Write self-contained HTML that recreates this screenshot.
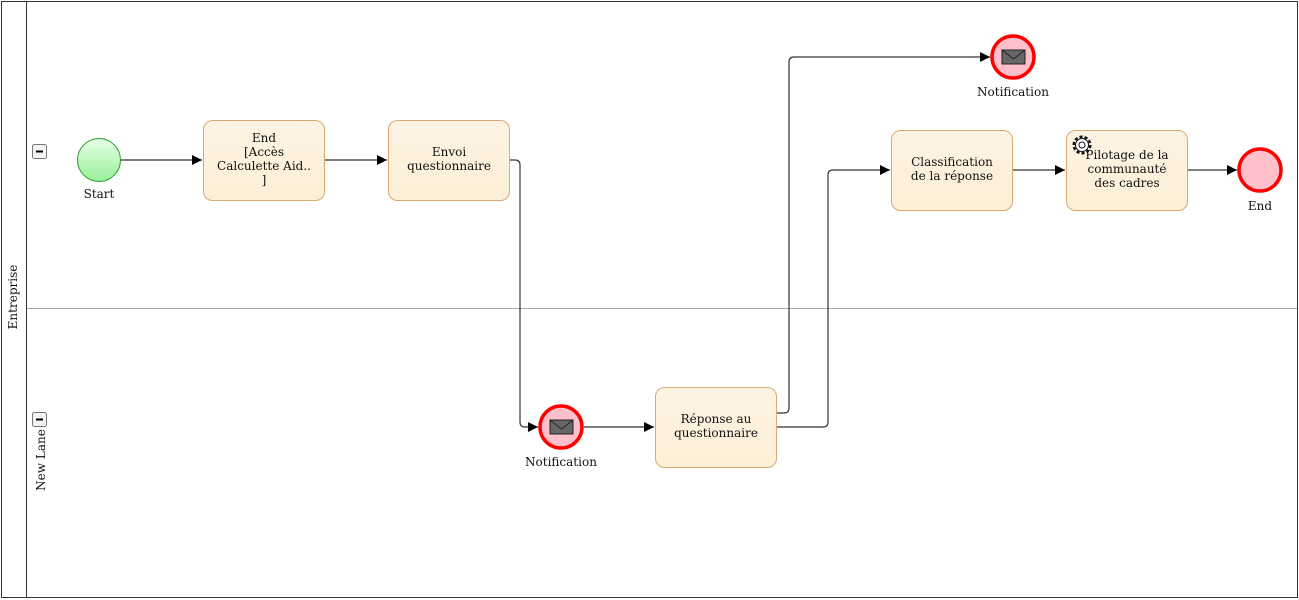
<!DOCTYPE html>
<html><head><meta charset="utf-8"><style>
html,body{margin:0;padding:0;background:#fff;}
svg{display:block;}
text{font-family:"DejaVu Serif","Liberation Serif",serif;font-size:12px;fill:#111;}
</style></head><body>
<svg width="1299" height="600" viewBox="0 0 1299 600" xmlns="http://www.w3.org/2000/svg">
<defs>
<linearGradient id="tg" x1="0" y1="0" x2="0" y2="1"><stop offset="0" stop-color="#fdf3e3"/><stop offset="1" stop-color="#fdefd6"/></linearGradient>
<linearGradient id="sg" x1="0" y1="0" x2="0" y2="1"><stop offset="0" stop-color="#e6ffe6"/><stop offset="1" stop-color="#99f099"/></linearGradient>
<marker id="a" markerWidth="10" markerHeight="10" refX="10" refY="5" orient="auto" markerUnits="userSpaceOnUse"><path d="M0,0 L10,5 L0,10 z" fill="#000"/></marker>
</defs>
<rect x="1.5" y="1.5" width="1296" height="596" fill="#fff" stroke="#333"/>
<line x1="26.5" y1="1" x2="26.5" y2="598" stroke="#333"/>
<line x1="27" y1="308.5" x2="1297" y2="308.5" stroke="#aaa"/>
<text transform="translate(17,297) rotate(-90)" text-anchor="middle">Entreprise</text>
<text transform="translate(45,460) rotate(-90)" text-anchor="middle">New Lane</text>
<rect x="32.5" y="144.5" width="14" height="14" rx="2" fill="#f4f4f4" stroke="#777"/><line x1="36" y1="151.5" x2="43" y2="151.5" stroke="#000" stroke-width="2"/>
<rect x="32.5" y="412.5" width="14" height="14" rx="2" fill="#f4f4f4" stroke="#777"/><line x1="36" y1="419.5" x2="43" y2="419.5" stroke="#000" stroke-width="2"/>

<g fill="none" stroke="#333" stroke-width="1.2">
<path d="M120,160 H202" marker-end="url(#a)"/>
<path d="M325,160 H387" marker-end="url(#a)"/>
<path d="M510,160 H515 Q520,160 520,165 V422 Q520,427 525,427 H538" marker-end="url(#a)"/>
<path d="M584,427 H654" marker-end="url(#a)"/>
<path d="M777,413 H784 Q789,413 789,408 V62 Q789,57 794,57 H990" marker-end="url(#a)"/>
<path d="M777,427 H823 Q828,427 828,422 V175 Q828,170 833,170 H890" marker-end="url(#a)"/>
<path d="M1013,170 H1065" marker-end="url(#a)"/>
<path d="M1188,170 H1237" marker-end="url(#a)"/>
</g>

<circle cx="99" cy="160" r="21.5" fill="url(#sg)" stroke="#2a9a2a" stroke-width="1"/>
<text x="99" y="198" text-anchor="middle">Start</text>

<rect x="203.5" y="120.5" width="121" height="80" rx="9" fill="url(#tg)" stroke="#d8aa72"/>
<text x="264" y="142" text-anchor="middle">End</text>
<text x="264" y="156" text-anchor="middle">[Accès</text>
<text x="264" y="170" text-anchor="middle">Calculette Aid..</text>
<text x="264" y="184" text-anchor="middle">]</text>

<rect x="388.5" y="120.5" width="121" height="80" rx="9" fill="url(#tg)" stroke="#d8aa72"/>
<text x="449" y="156" text-anchor="middle">Envoi</text>
<text x="449" y="170" text-anchor="middle">questionnaire</text>

<circle cx="561" cy="427" r="21" fill="#ffc0cb" stroke="#f00" stroke-width="3.5"/>
<rect x="550" y="420" width="23" height="14" fill="#666" stroke="#222"/><path d="M550,420 L561.5,429 L573,420" fill="none" stroke="#222"/>
<text x="561" y="466" text-anchor="middle">Notification</text>

<rect x="655.5" y="387.5" width="121" height="80" rx="9" fill="url(#tg)" stroke="#d8aa72"/>
<text x="716" y="423" text-anchor="middle">Réponse au</text>
<text x="716" y="437" text-anchor="middle">questionnaire</text>

<circle cx="1013" cy="57" r="21" fill="#ffc0cb" stroke="#f00" stroke-width="3.5"/>
<rect x="1002" y="50" width="23" height="14" fill="#666" stroke="#222"/><path d="M1002,50 L1013.5,59 L1025,50" fill="none" stroke="#222"/>
<text x="1013" y="96" text-anchor="middle">Notification</text>

<rect x="891.5" y="130.5" width="121" height="80" rx="9" fill="url(#tg)" stroke="#d8aa72"/>
<text x="952" y="166" text-anchor="middle">Classification</text>
<text x="952" y="180" text-anchor="middle">de la réponse</text>

<rect x="1066.5" y="130.5" width="121" height="80" rx="9" fill="url(#tg)" stroke="#d8aa72"/>
<text x="1127" y="159" text-anchor="middle">Pilotage de la</text>
<text x="1127" y="173" text-anchor="middle">communauté</text>
<text x="1127" y="187" text-anchor="middle">des cadres</text>
<g transform="translate(1082,145)">
<circle r="8" fill="#fff" stroke="#111" stroke-dasharray="3 2" stroke-width="3"/>
<circle r="7" fill="#fff" stroke="none"/>
<circle r="6.5" fill="none" stroke="#111"/>
<circle r="3" fill="#fff" stroke="#111"/>
</g>

<circle cx="1260" cy="170" r="21" fill="#ffc0cb" stroke="#f00" stroke-width="3.5"/>
<text x="1260" y="210" text-anchor="middle">End</text>
</svg>
</body></html>
